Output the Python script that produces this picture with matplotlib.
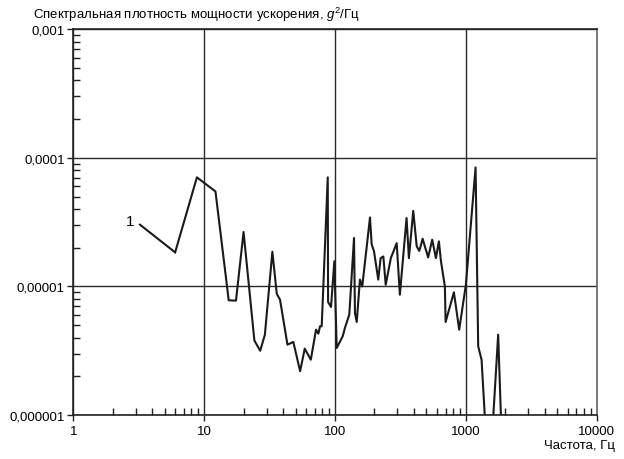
import matplotlib
matplotlib.use("Agg")
import matplotlib.pyplot as plt
from matplotlib.ticker import FixedLocator, FixedFormatter, LogLocator, NullFormatter

plt.rcParams["font.family"] = ["Liberation Sans", "DejaVu Sans"]
plt.rcParams["mathtext.fontset"] = "custom"
plt.rcParams["mathtext.it"] = "Liberation Sans:italic"
plt.rcParams["mathtext.rm"] = "Liberation Sans"

# frequency, Hz
freq = [6.0, 8.8, 12.2, 15.4, 17.5, 20.0, 24.2, 26.8, 29.1, 33.2, 35.9, 38.0,
        43.3, 48.0, 54.1, 58.7, 65.3, 71.6, 74.6, 76.8, 79.1, 88.0, 88.5, 93.2,
        98.8, 103, 114.5, 119, 128.5, 139.7, 142, 146.5, 155, 161.5, 185, 190.5,
        198.6, 214, 223, 234, 244, 267, 296, 313, 352, 367, 396, 421, 440, 451,
        467, 515, 553, 590, 622, 645, 691, 700, 810, 889, 1000, 1186, 1242, 1318,
        1422, 1588, 1765, 1874]
# acceleration PSD, g^2/Hz
psd = [1.84e-5, 7.05e-5, 5.48e-5, 7.8e-6, 7.75e-6, 2.65e-5, 3.79e-6, 3.16e-6,
       4.21e-6, 1.86e-5, 8.73e-6, 7.88e-6, 3.52e-6, 3.70e-6, 2.19e-6, 3.28e-6,
       2.69e-6, 4.61e-6, 4.29e-6, 4.90e-6, 4.90e-6, 7.05e-5, 7.56e-6, 6.92e-6,
       1.57e-5, 3.32e-6, 4.10e-6, 4.75e-6, 6.03e-6, 2.38e-5, 6.21e-6, 5.29e-6,
       1.13e-5, 1.0e-5, 3.44e-5, 2.13e-5, 1.87e-5, 1.13e-5, 1.66e-5, 1.71e-5,
       1.03e-5, 1.66e-5, 2.17e-5, 8.62e-6, 3.40e-5, 1.66e-5, 3.87e-5, 2.05e-5,
       1.89e-5, 2.05e-5, 2.35e-5, 1.68e-5, 2.31e-5, 1.66e-5, 2.24e-5, 1.57e-5,
       1.0e-5, 5.29e-6, 9.0e-6, 4.61e-6, 1.03e-5, 8.42e-5, 3.42e-6, 2.69e-6,
       7e-7, 7e-7, 4.21e-6, 7e-7]

x_ticks = [1, 10, 100, 1000, 10000]
x_labels = ["1", "10", "100", "1000", "10000"]
y_ticks = [1e-6, 1e-5, 1e-4, 1e-3]
y_labels = ["0,000001", "0,00001", "0,0001", "0,001"]

fig = plt.figure(figsize=(6.24, 4.6), dpi=100)
ax = fig.add_axes([0.1175, 0.0957, 0.8388, 0.8385])
ax.set_xscale("log")
ax.set_yscale("log")
ax.set_xlim(1, 10000)
ax.set_ylim(1e-6, 1e-3)

ax.plot(freq, psd, color="#1a1a1a", lw=1.5)

ax.xaxis.set_major_locator(FixedLocator(x_ticks))
ax.xaxis.set_major_formatter(FixedFormatter(x_labels))
ax.yaxis.set_major_locator(FixedLocator(y_ticks))
ax.yaxis.set_major_formatter(FixedFormatter(y_labels))
ax.xaxis.set_minor_locator(LogLocator(base=10, subs=range(2, 10)))
ax.yaxis.set_minor_locator(LogLocator(base=10, subs=range(2, 10)))
ax.xaxis.set_minor_formatter(NullFormatter())
ax.yaxis.set_minor_formatter(NullFormatter())

ax.tick_params(which="major", direction="out", length=4, width=1, labelsize=9.5, color="#222")
ax.tick_params(axis="y", which="major", pad=2)
ax.tick_params(which="minor", direction="in", length=5, width=1, color="#222")
ax.grid(True, which="major", color="#2a2a2a", lw=1.0)
for side in ax.spines.values():
    side.set_linewidth(1.2)
    side.set_color("#222")
ax.spines["right"].set_color("#666")

ax.annotate("1", xy=(freq[0], psd[0]), xytext=(2.95, 3.25e-5), fontsize=11,
            ha="right", va="center",
            arrowprops=dict(arrowstyle="-", color="#1a1a1a", lw=1.5,
                            relpos=(1.0, 0.5), shrinkA=2, shrinkB=0))

fig.text(0.053, 0.967, r"Спектральная плотность мощности ускорения, $\mathit{g}^{2}$/Гц",
         fontsize=9.5, ha="left", va="center")
fig.text(0.985, 0.03, "Частота, Гц", fontsize=9.5, ha="right", va="center")

fig.savefig("out.png", dpi=100)
